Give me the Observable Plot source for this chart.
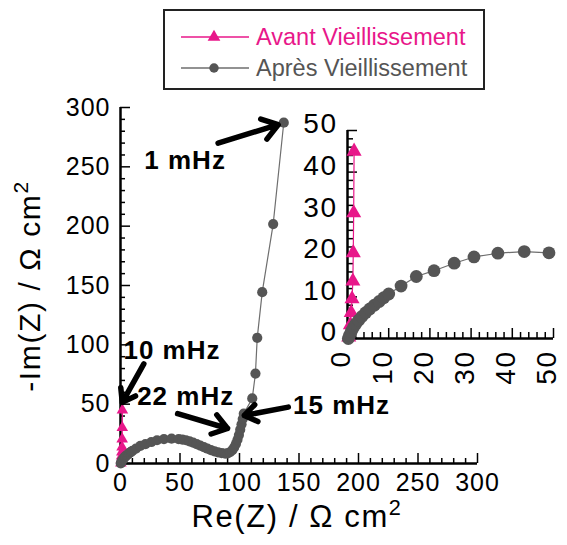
<!DOCTYPE html>
<html><head><meta charset="utf-8">
<script src="https://cdn.jsdelivr.net/npm/d3@7"></script>
<script src="https://cdn.jsdelivr.net/npm/@observablehq/plot@0.6"></script>
<style>
body{margin:0;background:#fff;font-family:"Liberation Sans",Arial,sans-serif;}
#wrap{position:relative;width:567px;height:545px;overflow:hidden;background:#fff;}
#wrap svg{position:absolute;}
#legend{position:absolute;left:163px;top:9px;width:318px;height:77px;border:2px solid #222;background:#fff;}
.row{position:absolute;left:0;height:30px;display:flex;align-items:center;font-size:23.5px;white-space:nowrap;}
.row svg{position:static !important;margin-left:16px;margin-right:7px;}
#xtitle{position:absolute;left:0;width:594px;text-align:center;top:499px;font-size:31px;letter-spacing:1.6px;}
#ytitle{position:absolute;left:30px;top:286px;transform:translate(-50%,-50%) rotate(-90deg);font-size:30px;letter-spacing:1.6px;white-space:nowrap;}
sup{font-size:0.7em;vertical-align:0.55em;line-height:0;}
</style></head><body><div id="wrap"></div>
<script>
// ---- data ----
const seriesNames = ["Avant Vieillissement", "Après Vieillissement"];
const seriesColors = ["#e8178a", "#555555"];

const avantRe = [0.3, 0.7, 0.9, 1.1, 1.3, 1.4, 1.5, 1.6];
const avantIm = [0.3, 3.3, 6.2, 9.5, 13.8, 20.6, 30.2, 45.0];

const apresRe = [0.2, 0.5, 0.9, 1.4, 2.0, 2.7, 3.5, 4.4, 5.4, 6.5, 7.7, 8.8, 10.0, 13.0, 16.7, 21.0, 25.9, 30.7, 36.5, 42.9, 48.9,
  52, 55, 58, 61, 64, 67, 70, 73, 76, 79, 82, 85, 88, 90, 92, 94, 95.5, 97, 98.3, 99.5, 100.6, 101.7, 102.7, 103.6,
  110.7, 113.4, 114.9, 119.1, 128.3, 137.2];
const apresIm = [0.0, 0.8, 1.7, 2.6, 3.5, 4.4, 5.3, 6.2, 7.1, 8.0, 8.9, 9.8, 10.7, 12.6, 14.9, 16.3, 18.1, 19.6, 20.5, 20.9, 20.6,
  20.2, 19.6, 18.7, 17.6, 16.4, 15.1, 13.8, 12.5, 11.3, 10.2, 9.3, 8.7, 8.4, 8.6, 9.5, 11.2, 13.5, 16.5, 20.0, 24.0, 28.5, 33.0, 37.5, 42.0,
  54.8, 75.8, 105.9, 144.4, 201.8, 287.2];

const mainTicks = [0, 50, 100, 150, 200, 250, 300];
const mainMinorTicks = [10, 20, 30, 40, 60, 70, 80, 90, 110, 120, 130, 140, 160, 170, 180, 190, 210, 220, 230, 240, 260, 270, 280, 290];
const insetTicks = [0, 10, 20, 30, 40, 50];
const insetMinorTicks = [2, 4, 6, 8, 12, 14, 16, 18, 22, 24, 26, 28, 32, 34, 36, 38, 42, 44, 46, 48];

const annLabels = ["1 mHz", "10 mHz", "22 mHz", "15 mHz"];
const annTextRe = [20, 2.5, 14, 145];
const annTextIm = [255, 95, 56, 49];
const arrowFromRe = [82, 19.6, 48, 141];
const arrowFromIm = [270, 84, 42, 47.5];
const arrowToRe = [132.5, 1.5, 90, 104];
const arrowToIm = [285.5, 51.5, 29.5, 40.5];

// ---- build tables ----
const avant = avantRe.map((re, i) => ({re, im: avantIm[i]}));
const apres = apresRe.map((re, i) => ({re, im: apresIm[i]}));
const ann = annLabels.map((label, i) => ({label, tx: annTextRe[i], ty: annTextIm[i],
  x1: arrowFromRe[i], y1: arrowFromIm[i], x2: arrowToRe[i], y2: arrowToIm[i]}));

const pink = seriesColors[0], grey = seriesColors[1], greyLine = "#6e6e6e";
const font = "'Liberation Sans', Arial, sans-serif";

// ---- main chart ----
const M = {w: 567, h: 545, l: 120, r: 90, t: 107, b: 82};
const mH = M.h - M.t - M.b, mW = M.w - M.l - M.r;
const main = Plot.plot({
  width: M.w, height: M.h, marginLeft: M.l, marginRight: M.r, marginTop: M.t, marginBottom: M.b,
  x: {domain: [0, 300]}, y: {domain: [0, 300]},
  style: {fontFamily: font, color: "#000", background: "transparent", overflow: "visible", letterSpacing: "1px"},
  marks: [
    Plot.tickX(mainMinorTicks, {x: d => d, insetTop: mH - 5, strokeWidth: 1.5}),
    Plot.tickX(mainTicks, {x: d => d, insetTop: mH - 10, strokeWidth: 1.5}),
    Plot.tickY(mainMinorTicks, {y: d => d, insetRight: mW - 5, strokeWidth: 1.5}),
    Plot.tickY(mainTicks, {y: d => d, insetRight: mW - 10, strokeWidth: 1.5}),
    Plot.ruleY([0], {strokeWidth: 2.5}),
    Plot.ruleX([0], {strokeWidth: 2.5}),
    Plot.axisX({ticks: mainTicks, tickSize: 0, tickPadding: 10, fontSize: 25, label: null}),
    Plot.axisY({ticks: mainTicks, tickSize: 0, tickPadding: 10, fontSize: 25, label: null}),
    Plot.line(avant, {x: "re", y: "im", stroke: pink, strokeWidth: 1.2}),
    Plot.dot(avant, {x: "re", y: "im", symbol: "triangle", r: 4.3, fill: pink}),
    Plot.line(apres, {x: "re", y: "im", stroke: greyLine, strokeWidth: 1.2}),
    Plot.dot(apres, {x: "re", y: "im", r: 5.1, fill: grey}),
    Plot.arrow(ann, {x1: "x1", y1: "y1", x2: "x2", y2: "y2", stroke: "#000", strokeWidth: 5.5, headLength: 5, headAngle: 70}),
    Plot.text(ann, {x: "tx", y: "ty", text: "label", textAnchor: "start", fontWeight: "bold", fontSize: 26, fill: "#000"})
  ]
});
main.style.left = "0px"; main.style.top = "0px";

// ---- inset ----
const I = {left: 280, top: 100, w: 287, h: 320, l: 67, r: 14, t: 30, b: 82};
const iH = I.h - I.t - I.b, iW = I.w - I.l - I.r;
const inset = Plot.plot({
  width: I.w, height: I.h, marginLeft: I.l, marginRight: I.r, marginTop: I.t, marginBottom: I.b,
  x: {domain: [0, 50]}, y: {domain: [0, 50]},
  style: {fontFamily: font, color: "#000", background: "transparent", overflow: "visible", letterSpacing: "1.5px"},
  marks: [
    Plot.tickX(insetMinorTicks, {x: d => d, insetTop: iH - 6, strokeWidth: 1.5}),
    Plot.tickX(insetTicks, {x: d => d, insetTop: iH - 10, strokeWidth: 1.5}),
    Plot.tickY(insetMinorTicks, {y: d => d, insetRight: iW - 6, strokeWidth: 1.5}),
    Plot.tickY(insetTicks, {y: d => d, insetRight: iW - 10, strokeWidth: 1.5}),
    Plot.ruleY([0], {strokeWidth: 2.5}),
    Plot.ruleX([0], {strokeWidth: 2.5}),
    Plot.axisX({ticks: insetTicks, tickSize: 0, tickPadding: 12, tickRotate: -90, fontSize: 28, label: null, dx: -6}),
    Plot.axisY({ticks: insetTicks, tickSize: 0, tickPadding: 10, fontSize: 28, label: null, dy: -6}),
    Plot.line(avant, {x: "re", y: "im", stroke: pink, strokeWidth: 1.2, filter: d => d.re <= 50 && d.im <= 50}),
    Plot.dot(avant, {x: "re", y: "im", symbol: "triangle", r: 5.6, fill: pink, filter: d => d.re <= 50 && d.im <= 50}),
    Plot.line(apres, {x: "re", y: "im", stroke: greyLine, strokeWidth: 1.2, filter: d => d.re <= 50 && d.im <= 50}),
    Plot.dot(apres, {x: "re", y: "im", r: 6.4, fill: grey, filter: d => d.re <= 50 && d.im <= 50})
  ]
});
inset.style.left = I.left + "px"; inset.style.top = I.top + "px";

const wrap = document.getElementById("wrap");
wrap.appendChild(main);
wrap.appendChild(inset);

// ---- legend ----
const legend = document.createElement("div");
legend.id = "legend";
seriesNames.forEach((name, i) => {
  const row = document.createElement("div");
  row.className = "row";
  row.style.top = (i === 0 ? 11 : 42) + "px";
  row.style.color = i === 0 ? pink : "#555";
  const ns = "http://www.w3.org/2000/svg";
  const s = document.createElementNS(ns, "svg");
  s.setAttribute("width", 68); s.setAttribute("height", 20);
  const ln = document.createElementNS(ns, "line");
  ln.setAttribute("x1", 0); ln.setAttribute("x2", 68); ln.setAttribute("y1", 10); ln.setAttribute("y2", 10);
  ln.setAttribute("stroke", i === 0 ? pink : greyLine); ln.setAttribute("stroke-width", 1.5);
  s.appendChild(ln);
  const sym = document.createElementNS(ns, "path");
  sym.setAttribute("d", d3.symbol(i === 0 ? d3.symbolTriangle : d3.symbolCircle, 70)());
  sym.setAttribute("transform", "translate(33,10)");
  sym.setAttribute("fill", i === 0 ? pink : grey);
  s.appendChild(sym);
  row.appendChild(s);
  row.appendChild(document.createTextNode(name));
  legend.appendChild(row);
});
wrap.appendChild(legend);

// ---- axis titles ----
const xt = document.createElement("div");
xt.id = "xtitle"; xt.innerHTML = "Re(Z) / Ω cm<sup>2</sup>";
wrap.appendChild(xt);
const yt = document.createElement("div");
yt.id = "ytitle"; yt.innerHTML = "-Im(Z) / Ω cm<sup>2</sup>";
wrap.appendChild(yt);
</script></body></html>
